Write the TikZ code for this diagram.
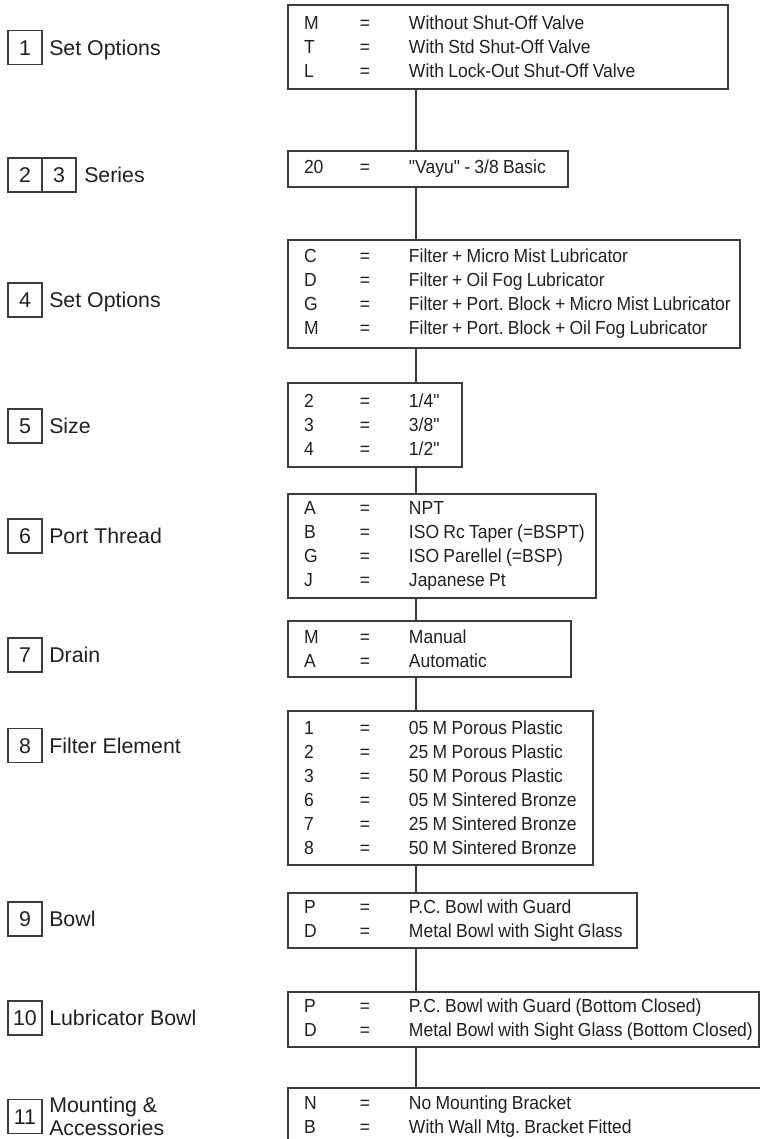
\documentclass[tikz,border=0pt]{standalone}
\usepackage{fontspec}
\setmainfont{Liberation Sans}
\newfontfamily\optfont[FakeStretch=0.925]{Liberation Sans}
\usetikzlibrary{positioning}

\newdimen\pxl \pxl=0.75pt
\definecolor{ink}{HTML}{231F20}
\definecolor{rule}{HTML}{3C3C3C}
\newcommand\optrow[2]{\mbox{\spaceskip=3.2pt\relax\xspaceskip=3.2pt\relax
  \makebox[56\pxl][l]{#1}\makebox[49\pxl][l]{=}#2}}

\begin{document}
\begin{tikzpicture}[x=0.75pt,y=-0.75pt,
    numbox/.style={draw=rule,line width=1pt,text=ink,minimum width=34\pxl,minimum height=34\pxl,
      inner sep=0pt,outer sep=0pt,text height=11.5pt,text depth=0pt,font=\fontsize{16}{17}\selectfont},
    lbl/.style={text=ink,inner sep=0pt,text height=11.5pt,text depth=0pt,font=\fontsize{16}{17}\selectfont},
    lbltwo/.style={text=ink,inner sep=0pt,align=left,font=\fontsize{16}{17.25}\selectfont},
    optbox/.style={draw=rule,line width=1pt,text=ink,anchor=north west,inner xsep=16\pxl,inner ysep=0pt,
      outer sep=0pt,align=left,font=\optfont\fontsize{14.2}{18}\selectfont},
    link/.style={draw=rule,line width=1.1pt}]
                \useasboundingbox (0,0) rectangle (760,1139);
                \clip (0,0) rectangle (760,1139);

                % code positions on the left
                \node[numbox] (n1) at (25,47.5) {1};
                \node[lbl,right=7\pxl of n1] (l1) {Set Options};
                \node[numbox] (n2) at (25,175) {2};
                \node[numbox,right=0pt of n2] (n3) {3};
                \node[lbl,right=8\pxl of n3] (l3) {Series};
                \node[numbox] (n4) at (25,300) {4};
                \node[lbl,right=7\pxl of n4] (l4) {Set Options};
                \node[numbox] (n5) at (25,426) {5};
                \node[lbl,right=7\pxl of n5] (l5) {Size};
                \node[numbox] (n6) at (25,536) {6};
                \node[lbl,right=7\pxl of n6] (l6) {Port Thread};
                \node[numbox] (n7) at (25,655) {7};
                \node[lbl,right=7\pxl of n7] (l7) {Drain};
                \node[numbox] (n8) at (25,745.5) {8};
                \node[lbl,right=7\pxl of n8] (l8) {Filter Element};
                \node[numbox] (n9) at (25,919) {9};
                \node[lbl,right=7\pxl of n9] (l9) {Bowl};
                \node[numbox] (n10) at (25,1018) {10};
                \node[lbl,right=7\pxl of n10] (l10) {Lubricator Bowl};
                \node[numbox] (n11) at (25,1116.5) {11};
                \node[lbltwo,right=7\pxl of n11] (l11) {Mounting \&\\Accessories};

                % option boxes
                \node[optbox,text width=408\pxl,minimum height=84\pxl] (o1) at (288,5)
                    {\optrow{M}{Without Shut-Off Valve}\\\optrow{T}{With Std Shut-Off Valve}\\
                     \optrow{L}{With Lock-Out Shut-Off Valve}};
                \node[optbox,text width=248\pxl,minimum height=36\pxl] (o2) at (288,151)
                    {\optrow{20}{"Vayu" - 3/8 Basic}};
                \node[optbox,text width=420\pxl,minimum height=108\pxl] (o4) at (288,240)
                    {\optrow{C}{Filter + Micro Mist Lubricator}\\\optrow{D}{Filter + Oil Fog Lubricator}\\
                     \optrow{G}{Filter + Port. Block + Micro Mist Lubricator}\\
                     \optrow{M}{Filter + Port. Block + Oil Fog Lubricator}};
                \node[optbox,text width=142\pxl,minimum height=84\pxl] (o5) at (288,383)
                    {\optrow{2}{1/4"}\\\optrow{3}{3/8"}\\\optrow{4}{1/2"}};
                \node[optbox,text width=276\pxl,minimum height=104\pxl] (o6) at (288,494)
                    {\optrow{A}{NPT}\\\optrow{B}{ISO Rc Taper (=BSPT)}\\\optrow{G}{ISO Parellel (=BSP)}\\
                     \optrow{J}{Japanese Pt}};
                \node[optbox,text width=251\pxl,minimum height=56\pxl] (o7) at (288,621)
                    {\optrow{M}{Manual}\\\optrow{A}{Automatic}};
                \node[optbox,text width=273\pxl,minimum height=154\pxl] (o8) at (288,711)
                    {\optrow{1}{05 M Porous Plastic}\\\optrow{2}{25 M Porous Plastic}\\
                     \optrow{3}{50 M Porous Plastic}\\\optrow{6}{05 M Sintered Bronze}\\
                     \optrow{7}{25 M Sintered Bronze}\\\optrow{8}{50 M Sintered Bronze}};
                \node[optbox,text width=317\pxl,minimum height=55\pxl] (o9) at (288,893)
                    {\optrow{P}{P.C. Bowl with Guard}\\\optrow{D}{Metal Bowl with Sight Glass}};
                \node[optbox,text width=439\pxl,minimum height=55\pxl] (o10) at (288,992)
                    {\optrow{P}{P.C. Bowl with Guard (Bottom Closed)}\\
                     \optrow{D}{Metal Bowl with Sight Glass (Bottom Closed)}};
                \node[optbox,text width=450\pxl,minimum height=58\pxl] (o11) at (288,1088)
                    {\optrow{N}{No Mounting Bracket}\\\optrow{B}{With Wall Mtg. Bracket Fitted}};

                % spine between the boxes
                \coordinate (spine) at (416,0);
                \foreach \a/\b in {o1/o2,o2/o4,o4/o5,o5/o6,o6/o7,o7/o8,o8/o9,o9/o10,o10/o11}
                    \path[link] (\a.south -| spine) -- (\b.north -| spine);

\end{tikzpicture}
\end{document}
